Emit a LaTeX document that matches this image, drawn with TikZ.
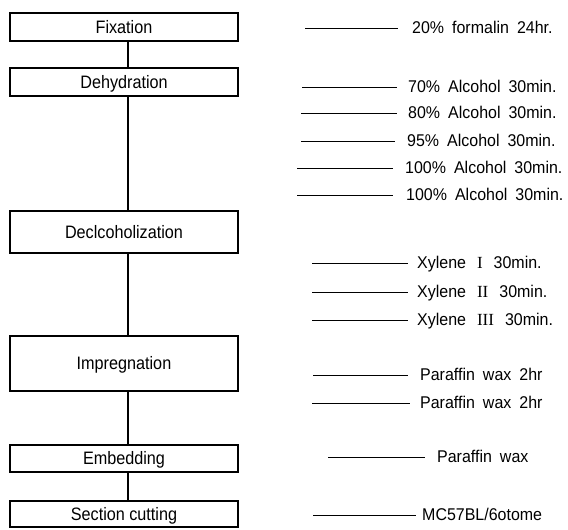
\documentclass[tikz,border=0pt]{standalone}
\usepackage{fontspec}
\setmainfont{Liberation Sans}
\newfontfamily\boxfont[FakeStretch=0.9]{Liberation Sans}
\newfontfamily\labfont[FakeStretch=0.94]{Liberation Sans}
\newfontfamily\romfont{Liberation Serif}
\tikzset{
  stage/.style={draw, line width=1.1pt, minimum width=228pt, inner sep=0pt,
    text height=13pt, text depth=0pt, font=\boxfont\fontsize{18}{21}\selectfont},
  lab/.style={anchor=west, inner sep=0pt, text height=12pt, text depth=0pt,
    font={\labfont\fontsize{17}{20}\selectfont\spaceskip=8pt\relax}},
  link/.style={line width=1.1pt},
  tick/.style={line width=0.9pt},
}
\newcommand\rn[1]{\hspace{11pt}{\romfont #1}\hspace{11pt}}
\begin{document}
\begin{tikzpicture}[x=1pt,y=1pt]
\useasboundingbox (0,0) rectangle (568,530);
% stages
\node[stage, minimum height=28pt] (fix) at (124,503) {Fixation};
\node[stage, minimum height=28pt] (deh) at (124,448) {Dehydration};
\node[stage, minimum height=42pt] (dec) at (124,298) {Declcoholization};
\node[stage, minimum height=55pt] (imp) at (124,166.5) {Impregnation};
\node[stage, minimum height=27pt] (emb) at (124,71.5) {Embedding};
\node[stage, minimum height=26pt] (sec) at (124,16) {Section cutting};
\draw[link] ([xshift=4pt]fix.south) -- ([xshift=4pt]deh.north);
\draw[link] ([xshift=4pt]deh.south) -- ([xshift=4pt]dec.north);
\draw[link] ([xshift=4pt]dec.south) -- ([xshift=4pt]imp.north);
\draw[link] ([xshift=4pt]imp.south) -- ([xshift=4pt]emb.north);
\draw[link] ([xshift=4pt]emb.south) -- ([xshift=4pt]sec.north);
% labels
\coordinate (s1) at (305,502);  \node[lab] (t1) at (412,502) {20\% formalin 24hr.};
\coordinate (s2) at (302,443);  \node[lab] (t2) at (408,443) {70\% Alcohol 30min.};
\coordinate (s3) at (301,417);  \node[lab] (t3) at (408,417) {80\% Alcohol 30min.};
\coordinate (s4) at (301,389);  \node[lab] (t4) at (407,389) {95\% Alcohol 30min.};
\coordinate (s5) at (297,362);  \node[lab] (t5) at (405,362) {100\% Alcohol 30min.};
\coordinate (s6) at (297,335);  \node[lab] (t6) at (406,335) {100\% Alcohol 30min.};
\coordinate (s7) at (312,267);  \node[lab] (t7) at (417,267) {Xylene\rn{I}30min.};
\coordinate (s8) at (312,238);  \node[lab] (t8) at (417,238) {Xylene\rn{II}30min.};
\coordinate (s9) at (312,210);  \node[lab] (t9) at (417,210) {Xylene\rn{III}30min.};
\coordinate (s10) at (313,155); \node[lab] (t10) at (420,155) {Paraffin wax 2hr};
\coordinate (s11) at (312,127); \node[lab] (t11) at (420,127) {Paraffin wax 2hr};
\coordinate (s12) at (328,73);  \node[lab] (t12) at (437,73) {Paraffin wax};
\coordinate (s13) at (313,15);  \node[lab] (t13) at (422,15) {MC57BL/6otome};
\draw[tick] (s1) -- ([xshift=-14pt]t1.west);
\draw[tick] (s2) -- ([xshift=-11pt]t2.west);
\draw[tick] (s3) -- ([xshift=-11pt]t3.west);
\draw[tick] (s4) -- ([xshift=-12pt]t4.west);
\draw[tick] (s5) -- ([xshift=-12pt]t5.west);
\draw[tick] (s6) -- ([xshift=-13pt]t6.west);
\draw[tick] (s7) -- ([xshift=-9pt]t7.west);
\draw[tick] (s8) -- ([xshift=-9pt]t8.west);
\draw[tick] (s9) -- ([xshift=-9pt]t9.west);
\draw[tick] (s10) -- ([xshift=-12pt]t10.west);
\draw[tick] (s11) -- ([xshift=-10pt]t11.west);
\draw[tick] (s12) -- ([xshift=-12pt]t12.west);
\draw[tick] (s13) -- ([xshift=-6pt]t13.west);
\end{tikzpicture}
\end{document}
